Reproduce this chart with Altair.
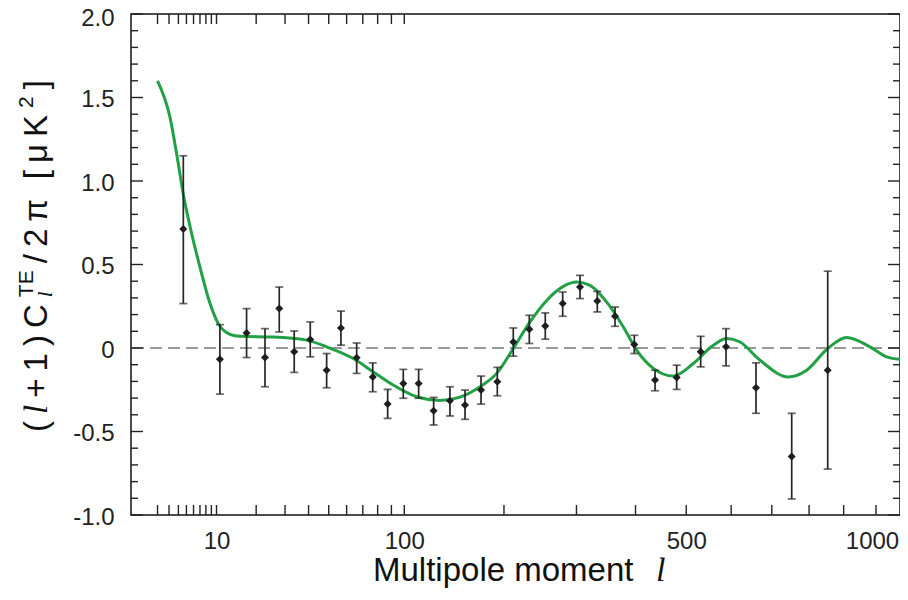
import altair as alt
import pandas as pd

# ---------------- data ----------------
point_l = [4.6, 10.7, 17.2, 22.8, 27.8, 33.7, 40.8, 48.9, 56.7, 66.1, 76.6, 87.2, 99.2, 111.9,
           125.2, 140.7, 156.0, 173.3, 192.0, 211.5, 232.2, 254.0, 279.1, 305.5, 333.3, 363.3,
           397.8, 436.9, 480.1, 531.0, 588.0, 660.0, 752.4, 853.0]
point_val = [0.713, -0.067, 0.090, -0.057, 0.236, -0.023, 0.051, -0.133, 0.120, -0.059,
             -0.173, -0.336, -0.212, -0.212, -0.376, -0.316, -0.341, -0.252, -0.202, 0.036,
             0.112, 0.132, 0.266, 0.365, 0.281, 0.190, 0.021, -0.192, -0.176, -0.023,
             0.007, -0.238, -0.650, -0.133]
err_hi = [1.151, 0.140, 0.236, 0.116, 0.365, 0.102, 0.156, -0.033, 0.221, 0.030,
          -0.089, -0.248, -0.128, -0.128, -0.296, -0.232, -0.252, -0.168, -0.116, 0.120,
          0.196, 0.210, 0.335, 0.435, 0.339, 0.245, 0.076, -0.133, -0.103, 0.070,
          0.116, -0.089, -0.391, 0.460]
err_lo = [0.266, -0.276, -0.057, -0.232, 0.096, -0.146, -0.053, -0.238, 0.017, -0.152,
          -0.262, -0.421, -0.301, -0.301, -0.461, -0.407, -0.427, -0.336, -0.286, -0.049,
          0.027, 0.053, 0.190, 0.296, 0.216, 0.130, -0.033, -0.256, -0.248, -0.113,
          -0.107, -0.391, -0.904, -0.725]

curve_l = [2, 3.1, 3.81, 4.6, 5.73, 7.0, 8.75, 10.36, 12.94, 15.42, 25.6, 39.1, 48.9, 64.0,
           77.0, 91.4, 110.3, 131.1, 150.8, 172.2, 191.3, 211.5, 233.1, 256.0, 280.0, 300.3,
           321.4, 349.1, 378.0, 402.1, 433.5, 473.3, 515.0, 559.0, 589.6, 621.0, 670.0,
           743.3, 793.3, 853.0, 909.0, 980.9, 1034.4, 1078.0]
curve_val = [1.60, 1.38, 1.16, 0.92, 0.684, 0.484, 0.266, 0.146, 0.082, 0.070, 0.066, 0.047,
             0.007, -0.063, -0.143, -0.222, -0.292, -0.314, -0.294, -0.232, -0.152, -0.003,
             0.156, 0.285, 0.369, 0.395, 0.375, 0.275, 0.126, -0.013, -0.122, -0.168, -0.093,
             0.017, 0.057, 0.036, -0.073, -0.173, -0.133, -0.003, 0.063, 0.007, -0.053, -0.068]

x_label_values = [10, 100, 500, 1000]
x_ticks_bottom = [2, 3, 4, 5, 6, 7, 8, 9, 10, 20, 30, 40, 50, 60, 70, 80, 90, 100,
                  200, 300, 400, 500, 600, 700, 800, 900, 1000]
x_ticks_top = [2, 3, 4, 5, 6, 7, 8, 9, 10, 20, 30, 40, 50, 60, 70, 80, 90, 100]
y_major = [-1.0, -0.5, 0.0, 0.5, 1.0, 1.5, 2.0]
y_minor = [-0.9, -0.8, -0.7, -0.6, -0.4, -0.3, -0.2, -0.1, 0.1, 0.2, 0.3, 0.4,
           0.6, 0.7, 0.8, 0.9, 1.1, 1.2, 1.3, 1.4, 1.6, 1.7, 1.8, 1.9]

# ---------------- layout ----------------
W, H = 769, 501
PADL, PADT = 123, 6
GREEN = "#21a045"
FONT = "Liberation Sans"
SERIF = "Liberation Serif"

xs = alt.Scale(type="pow", exponent=0.4, domain=[0.5425, 1078.3], nice=False, zero=False)
ys = alt.Scale(domain=[-1, 2], nice=False, zero=False)

pts = pd.DataFrame({"l": point_l, "v": point_val, "hi": err_hi, "lo": err_lo})
cur = pd.DataFrame({"l": curve_l, "v": curve_val})

zero = alt.Chart(pd.DataFrame({"v": [0]})).mark_rule(
    color="#7a7a7a", strokeWidth=1.3, strokeDash=[12, 6]
).encode(y=alt.Y("v:Q", scale=ys))

line = alt.Chart(cur).mark_line(color=GREEN, strokeWidth=3, interpolate="monotone").encode(
    x=alt.X("l:Q", scale=xs, axis=alt.Axis(values=x_label_values, format="d", ticks=False,
                                          tickSize=0, domain=False, grid=False,
                                          labelFontSize=24, labelFont=FONT, labelColor="#222",
                                          labelPadding=14, title=None,
                                          labelOffset={"condition": {"test": "datum.value == 1000", "value": -4}, "value": 0})),
    y=alt.Y("v:Q", scale=ys, axis=alt.Axis(values=y_major, ticks=False, tickSize=0,
                                          domain=False, grid=False, labelFontSize=24,
                                          labelFont=FONT, labelColor="#222", labelPadding=17,
                                          labelOffset={"condition": {"test": "datum.value == 2", "value": 4}, "value": 2},
                                          title=None,
                                          labelExpr="datum.value == 0 ? '0' : (datum.value < 0 ? '-' : '') + format(abs(datum.value), '.1f')")),
)

EB = "#262626"
bars = alt.Chart(pts).mark_rule(color=EB, strokeWidth=1.7).encode(
    x=alt.X("l:Q", scale=xs), y=alt.Y("lo:Q", scale=ys), y2="hi:Q")
cap_hi = alt.Chart(pts).mark_tick(color=EB, orient="horizontal", size=8, thickness=1.7).encode(
    x=alt.X("l:Q", scale=xs), y=alt.Y("hi:Q", scale=ys))
cap_lo = alt.Chart(pts).mark_tick(color=EB, orient="horizontal", size=8, thickness=1.7).encode(
    x=alt.X("l:Q", scale=xs), y=alt.Y("lo:Q", scale=ys))
dots = alt.Chart(pts).mark_point(shape="diamond", filled=True, size=64, color="#1e1e1e", opacity=1).encode(
    x=alt.X("l:Q", scale=xs), y=alt.Y("v:Q", scale=ys))

TK = "#222"
tb = alt.Chart(pd.DataFrame({"l": x_ticks_bottom})).mark_rule(color=TK, strokeWidth=1.4).encode(
    x=alt.X("l:Q", scale=xs), y=alt.value(H), y2=alt.value(H - 10))
tt = alt.Chart(pd.DataFrame({"l": x_ticks_top})).mark_rule(color=TK, strokeWidth=1.4).encode(
    x=alt.X("l:Q", scale=xs), y=alt.value(0), y2=alt.value(10))
ylM = alt.Chart(pd.DataFrame({"v": y_major})).mark_rule(color=TK, strokeWidth=1.4).encode(
    y=alt.Y("v:Q", scale=ys), x=alt.value(0), x2=alt.value(12))
yrM = alt.Chart(pd.DataFrame({"v": y_major})).mark_rule(color=TK, strokeWidth=1.4).encode(
    y=alt.Y("v:Q", scale=ys), x=alt.value(W), x2=alt.value(W - 12))
ylm = alt.Chart(pd.DataFrame({"v": y_minor})).mark_rule(color=TK, strokeWidth=1.4).encode(
    y=alt.Y("v:Q", scale=ys), x=alt.value(0), x2=alt.value(7))
yrm = alt.Chart(pd.DataFrame({"v": y_minor})).mark_rule(color=TK, strokeWidth=1.4).encode(
    y=alt.Y("v:Q", scale=ys), x=alt.value(W), x2=alt.value(W - 7))

# ---------------- titles ----------------
OX, OY = 8 + PADL, 8 + PADT   # page position of the plot origin


def txt(s, px, py, size, style="normal", font=FONT, angle=0, align="left"):
    return alt.Chart(pd.DataFrame({"t": [s]})).mark_text(
        text=s, font=font, fontSize=size, fontStyle=style, angle=angle, align=align,
        baseline="alphabetic", color="#111"
    ).encode(x=alt.value(px - OX), y=alt.value(py - OY))


xtitle = [
    txt("Multipole moment", 373, 581, 33),
    txt("l", 656, 581, 34, style="italic", font=SERIF),
]

# y title, laid out bottom-to-top with a little tracking
F, FS = 33, 21
WID = {"(": .333, ")": .333, "+": .584, "1": .556, "2": .556, "C": .722, "T": .611,
       "E": .667, "/": .278, "π": .58, " ": .278, "[": .278, "]": .278, "μ": .576,
       "K": .667, "l": .278}
BASE = 47           # page x of the main baseline
units = [  # text, size, style, font, baseline shift; "STACK" = sub l + sup TE
    ("(", F, "normal", FONT, 0), ("l", F, "italic", SERIF, 0), ("+", F, "normal", FONT, 0),
    ("1", F, "normal", FONT, 0), (")", F, "normal", FONT, 0), ("C", F, "normal", FONT, 0),
    ("STACK", FS, "", "", 0), ("/", F, "normal", FONT, 0), ("2", F, "normal", FONT, 0),
    ("π", F, "normal", FONT, 0), (" ", F, "", "", 0), ("[", F, "normal", FONT, 0),
    ("μ", F, "normal", FONT, 0), ("K", F, "normal", FONT, 0), ("2", FS, "normal", FONT, -14),
    ("]", F, "normal", FONT, 0),
]


def adv(u):
    s, size = u[0], u[1]
    if s == "STACK":
        return (WID["T"] + WID["E"]) * size
    return sum(WID[c] for c in s) * size


Y_BOTTOM, Y_TOP = 432, 80
natural = sum(adv(u) for u in units)
track = (Y_BOTTOM - Y_TOP - natural) / (len(units) - 1)
ytitle = []
pos = Y_BOTTOM
for u in units:
    s, size, style, font, shift = u
    if s == "STACK":
        ytitle.append(txt("TE", BASE - 14, pos, size, angle=270))
        ytitle.append(txt("l", BASE + 5, pos, size, style="italic", font=SERIF, angle=270))
    elif s != " ":
        ytitle.append(txt(s, BASE + shift, pos, size, style=style, font=font, angle=270))
    pos -= adv(u) + track

chart = alt.layer(zero, line, bars, cap_hi, cap_lo, dots, tb, tt, ylM, yrM, ylm, yrm,
                  *xtitle, *ytitle).properties(
    width=W, height=H,
    autosize=alt.AutoSizeParams(type="none"),
    padding={"left": PADL, "top": PADT, "right": 0, "bottom": 73},
    background="white",
).configure_view(stroke="#111", strokeWidth=1.5)

chart.save("out.html", embed_options={"renderer": "svg", "actions": False})
